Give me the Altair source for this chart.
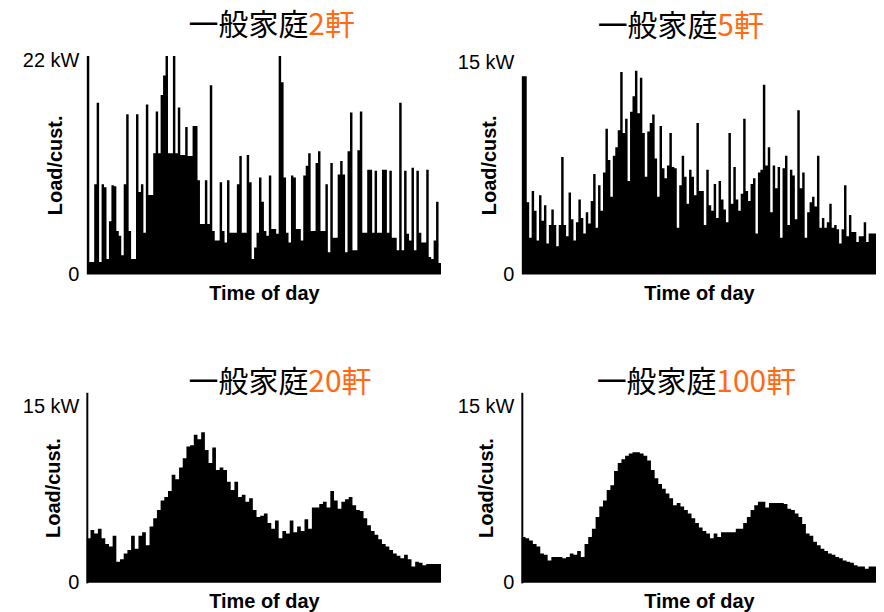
import altair as alt
import pandas as pd

# ---------------- data (kW per customer) ----------------
# 2 households: 144 ten-minute slots
load_2 = [
    22.5, 1.3, 1.3, 9.3, 17.7, 1.3, 9.3, 9.0, 1.6, 5.5,
    9.2, 9.1, 4.5, 4.0, 2.0, 9.3, 16.5, 4.5, 1.6, 1.6,
    16.5, 8.5, 9.3, 4.3, 17.5, 8.2, 8.2, 12.5, 16.8, 12.5,
    18.5, 20.5, 22.5, 12.5, 12.5, 22.5, 12.5, 17.2, 12.3, 12.3,
    15.2, 12.2, 12.2, 15.3, 15.3, 9.7, 5.2, 5.2, 9.7, 5.2,
    19.5, 4.5, 3.5, 3.5, 9.5, 4.5, 3.3, 9.7, 4.3, 4.3,
    4.3, 9.3, 12.2, 4.3, 4.3, 12.3, 9.5, 1.6, 2.8, 4.3,
    10.0, 7.5, 4.5, 4.0, 10.2, 4.7, 4.7, 4.2, 22.5, 19.8,
    10.0, 4.3, 3.3, 10.2, 10.0, 4.7, 4.7, 3.5, 10.2, 11.2,
    12.5, 4.5, 4.5, 11.5, 12.7, 4.5, 4.5, 9.3, 2.3, 11.5,
    3.8, 3.8, 10.3, 11.7, 10.3, 2.3, 12.7, 16.7, 2.5, 2.5,
    12.8, 16.8, 4.3, 4.3, 10.8, 10.8, 4.3, 10.7, 4.3, 4.3,
    10.8, 10.8, 4.3, 10.7, 3.8, 3.8, 2.5, 17.7, 2.5, 10.7,
    4.2, 3.5, 11.0, 2.5, 10.7, 4.3, 3.3, 3.3, 10.8, 1.8,
    1.6, 3.5, 7.5, 1.2,
]

# 5 households: 144 ten-minute slots
load_5 = [
    14.0, 14.0, 5.1, 2.6, 5.9, 4.5, 2.4, 5.6, 3.8, 4.9,
    2.2, 3.5, 4.6, 3.5, 2.0, 3.5, 8.3, 3.5, 2.7, 5.8,
    3.9, 2.4, 3.7, 5.3, 4.0, 2.9, 4.4, 3.6, 5.2, 7.1,
    3.3, 6.3, 4.5, 7.2, 10.3, 8.1, 5.5, 8.4, 9.0, 10.2,
    14.3, 10.0, 11.0, 6.6, 11.5, 12.6, 14.4, 11.4, 13.9, 10.0,
    6.9, 10.1, 10.7, 11.3, 8.2, 5.5, 10.5, 7.5, 6.8, 7.7,
    10.0, 7.6, 7.5, 3.3, 6.3, 8.4, 6.9, 5.0, 7.4, 6.9,
    5.6, 10.7, 5.9, 5.9, 3.5, 7.4, 4.9, 4.5, 6.4, 4.0,
    6.6, 5.3, 4.6, 3.7, 10.0, 5.0, 7.6, 5.3, 4.5, 5.7,
    11.0, 5.9, 5.2, 6.4, 6.8, 2.9, 7.2, 7.4, 13.4, 7.7,
    9.0, 4.4, 7.7, 6.1, 7.6, 2.6, 7.5, 8.4, 3.5, 7.4,
    7.0, 3.9, 11.6, 6.1, 7.2, 2.6, 4.4, 5.1, 5.5, 4.8,
    8.4, 3.3, 4.0, 3.3, 3.7, 5.0, 3.3, 3.5, 3.2, 2.2,
    3.2, 6.3, 2.7, 4.2, 3.0, 3.0, 2.3, 2.7, 2.7, 3.7,
    2.3, 2.9, 2.9, 2.9,
]

# 20 households: 96 fifteen-minute slots
load_20 = [
    3.8, 4.5, 4.2, 4.6, 3.8, 3.3, 3.1, 4.0, 1.8, 2.0,
    2.5, 2.8, 4.0, 2.9, 4.0, 4.3, 3.2, 4.8, 5.5, 6.2,
    7.0, 7.3, 7.8, 9.2, 8.8, 9.8, 10.6, 11.6, 11.7, 12.6,
    12.2, 12.8, 11.3, 10.2, 11.5, 9.6, 9.8, 9.6, 8.6, 7.9,
    8.6, 7.3, 7.5, 6.9, 7.2, 6.2, 5.6, 5.7, 5.9, 5.1,
    4.6, 5.3, 3.8, 4.4, 4.2, 5.3, 4.3, 4.8, 4.4, 5.4,
    4.6, 6.4, 6.4, 6.7, 6.9, 6.4, 7.8, 7.0, 6.3, 6.9,
    7.1, 7.3, 6.6, 6.2, 6.1, 5.5, 4.9, 4.4, 4.1, 3.7,
    3.3, 3.1, 2.8, 2.5, 2.3, 2.1, 2.4, 2.0, 1.4, 1.8,
    1.7, 1.5, 1.6, 1.6, 1.6, 1.6,
]

# 100 households: 96 fifteen-minute slots
load_100 = [
    3.9, 3.8, 3.6, 3.3, 3.1, 2.5, 2.4, 1.9, 2.2, 2.2,
    2.2, 2.1, 2.2, 2.5, 2.4, 2.7, 2.2, 3.3, 3.9, 4.6,
    5.6, 6.5, 7.0, 7.9, 8.3, 9.5, 10.2, 10.5, 10.8, 11.0,
    11.1, 11.1, 11.0, 10.8, 10.4, 9.6, 8.9, 8.4, 8.0, 7.6,
    7.2, 6.6, 6.8, 6.5, 6.2, 5.9, 5.5, 5.1, 4.7, 4.4,
    4.2, 3.8, 4.2, 3.9, 4.3, 4.3, 4.3, 4.3, 4.6, 4.6,
    5.1, 5.6, 6.2, 6.6, 6.9, 6.9, 6.4, 6.8, 6.8, 6.8,
    6.8, 6.7, 6.3, 6.2, 5.9, 5.6, 5.0, 4.2, 4.0, 3.5,
    3.2, 2.9, 2.7, 2.5, 2.4, 2.2, 2.1, 1.9, 1.8, 1.7,
    1.5, 1.4, 1.4, 1.2, 1.4, 1.4,
]

title_main = "一般家庭"
title_counts = ["2軒", "5軒", "20軒", "100軒"]
top_labels = [22, 15, 15, 15]           # kW value labelled at the top of each axis
y_axis_title = "Load/cust."
x_axis_title = "Time of day"

ORANGE = "#FF6A13"
LABEL_FONT = "Liberation Sans"
CJK_FONT = "Noto Sans CJK JP"


def panel(values, count, top_label, ymax, width, height, title_dx, title_dy,
          ytitle_x, show_domain):
    n = len(values)
    df = pd.DataFrame({
        "hour": [i * 24.0 / n for i in range(n)] + [24.0],
        "load": list(values) + [values[-1]],
    })
    area = alt.Chart(df).mark_area(
        interpolate="step-after", color="black", opacity=1
    ).encode(
        x=alt.X("hour:Q",
                scale=alt.Scale(domain=[0, 24], nice=False, zero=False),
                axis=alt.Axis(title=x_axis_title, labels=False, ticks=False,
                              domain=False, grid=False,
                              titleFont=LABEL_FONT, titleFontSize=20,
                              titleFontWeight="bold", titleColor="black",
                              titlePadding=9)),
        y=alt.Y("load:Q",
                scale=alt.Scale(domain=[0, ymax], nice=False, zero=True),
                axis=alt.Axis(title=y_axis_title, values=[0, top_label],
                              labelExpr="datum.value == 0 ? '0' : datum.label + ' kW'",
                              ticks=False, grid=False, domain=show_domain,
                              domainColor="black", domainWidth=2,
                              labelFont=LABEL_FONT, labelFontSize=20,
                              labelColor="black", labelPadding=8,
                              titleFont=LABEL_FONT, titleFontSize=20,
                              titleFontWeight="bold", titleColor="black",
                              titleAngle=270, titleAlign="center",
                              titleBaseline="middle",
                              titleX=ytitle_x, titleY=height / 2)),
    )
    black_txt = alt.Chart(pd.DataFrame({"t": [title_main]})).mark_text(
        align="right", baseline="middle", font=CJK_FONT, fontSize=30,
        color="black"
    ).encode(x=alt.value(title_dx), y=alt.value(title_dy), text="t:N")
    orange_txt = alt.Chart(pd.DataFrame({"t": [count]})).mark_text(
        align="left", baseline="middle", font=CJK_FONT, fontSize=30,
        color=ORANGE
    ).encode(x=alt.value(title_dx), y=alt.value(title_dy), text="t:N")
    return alt.layer(area, black_txt, orange_txt).properties(
        width=width, height=height)


p1 = panel(load_2, title_counts[0], top_labels[0], 22.6, 355, 220, 222, -29.5, -31, False)
p2 = panel(load_5, title_counts[1], top_labels[1], 15.5, 355, 220, 196, -28.5, -32, False)
p3 = panel(load_20, title_counts[2], top_labels[2], 16.2, 355, 191, 222, -9, -33, True)
p4 = panel(load_100, title_counts[3], top_labels[3], 16.2, 355, 191, 195, -9, -35, True)

chart = alt.concat(
    p1, p2, p3, p4, columns=2,
    spacing={"row": 118, "column": 81}, bounds="flush",
).properties(
    padding={"left": 14, "top": 1.5, "right": 0, "bottom": 0},
    background="white",
).configure_view(stroke=None)

chart.save("out.html", embed_options={"renderer": "svg", "actions": False})
